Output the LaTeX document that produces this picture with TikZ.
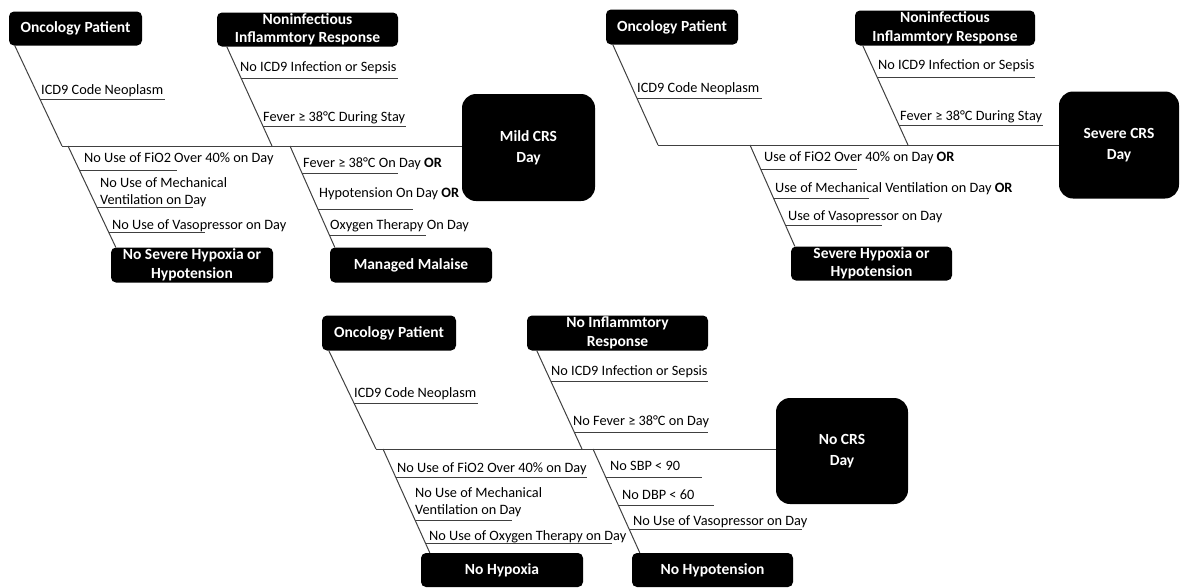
\documentclass[tikz,border=0pt]{standalone}
\usepackage{fontspec}
\setmainfont{Carlito}
\usetikzlibrary{calc}
\begin{document}
\begin{tikzpicture}[x=1pt,y=-1pt,
  blk/.style={fill=black, rounded corners=5pt, text=white, font=\fontsize{15.5}{18.5}\selectfont\bfseries, align=center, inner sep=0pt},
  big/.style={blk, rounded corners=14pt, font=\fontsize{15.5}{21}\selectfont\bfseries},
  lab/.style={anchor=base west, inner sep=0pt, font=\fontsize{14.3}{17}\selectfont, align=left},
  ln/.style={draw=black!75, line width=1pt}]
\useasboundingbox (0,0) rectangle (1180,587);

% ===== Diagram 1 : Mild CRS =====
\node[blk, minimum width=133pt, minimum height=34pt] (onc1) at (75.5,28.5) {Oncology Patient};
\node[blk, minimum width=181pt, minimum height=34pt] (non1) at (307.5,29.5) {Noninfectious\\Inflammtory Response};
\node[blk, minimum width=162pt, minimum height=35pt] (nsh1) at (192,265) {No Severe Hypoxia or\\Hypotension};
\node[blk, minimum width=162pt, minimum height=35pt] (mm1) at (411,265) {Managed Malaise};
\node[big, minimum width=133pt, minimum height=107pt] (mild) at (528.5,147.5) {Mild CRS\\Day};

\coordinate (s1a) at (62,146);
\coordinate (s1b) at (272,146);
\coordinate (s1c) at (68,146);
\coordinate (s1d) at (290,146);
\draw[ln] ([xshift=6pt]onc1.south west) -- (s1a);
\draw[ln] ([xshift=10pt]non1.south west) -- (s1b);
\draw[ln] (s1c) -- ([xshift=5pt]nsh1.north west);
\draw[ln] (s1d) -- ([xshift=5pt]mm1.north west);
\draw[ln] (s1a) -- (s1a -| mild.west);

\node[lab] (t11) at (41,94) {ICD9 Code Neoplasm};
\node[lab] (t12) at (240,71) {No ICD9 Infection or Sepsis};
\node[lab] (t13) at (263,121) {Fever ≥ 38°C During Stay};
\node[lab] (t14) at (84,162) {No Use of FiO2 Over 40\% on Day};
\node[lab] (t15) at (100,204) {No Use of Mechanical\\Ventilation on Day};
\node[lab] (t16) at (112,229) {No Use of Vasopressor on Day};
\node[lab] (t17) at (303,167) {Fever ≥ 38°C On Day \textbf{OR}};
\node[lab] (t18) at (319,197) {Hypotension On Day \textbf{OR}};
\node[lab] (t19) at (330,229) {Oxygen Therapy On Day};

\draw[ln] (40.1,99) -- (165,99);
\draw[ln] (241.4,78) -- (398,78);
\draw[ln] (263,126) -- (406,126);
\draw[ln] (79.4,170) -- (177,170);
\draw[ln] (97,207) -- (193,207);
\draw[ln] (108.9,232) -- (205,232);
\draw[ln] (302,173) -- (398,173);
\draw[ln] (318.1,209) -- (413,209);
\draw[ln] (329.7,235) -- (426,235);

% ===== Diagram 2 : Severe CRS =====
\node[blk, minimum width=132pt, minimum height=35pt] (onc2) at (672,27) {Oncology Patient};
\node[blk, minimum width=180pt, minimum height=35pt] (non2) at (945,28) {Noninfectious\\Inflammtory Response};
\node[blk, minimum width=161pt, minimum height=34pt] (shh2) at (871.5,263.5) {Severe Hypoxia or\\Hypotension};
\node[big, minimum width=120pt, minimum height=107pt] (severe) at (1119,145) {Severe CRS\\Day};

\coordinate (s2a) at (658,145);
\coordinate (s2b) at (908,145);
\coordinate (s2c) at (750,145);
\draw[ln] ([xshift=7pt]onc2.south west) -- (s2a);
\draw[ln] ([xshift=8pt]non2.south west) -- (s2b);
\draw[ln] (s2c) -- ([xshift=4pt]shh2.north west);
\draw[ln] (s2a) -- (s2a -| severe.west);

\node[lab] (t21) at (637,92) {ICD9 Code Neoplasm};
\node[lab] (t22) at (878,69) {No ICD9 Infection or Sepsis};
\node[lab] (t23) at (900,120) {Fever ≥ 38°C During Stay};
\node[lab] (t24) at (764,161) {Use of FiO2 Over 40\% on Day \textbf{OR}};
\node[lab] (t25) at (775,192) {Use of Mechanical Ventilation on Day \textbf{OR}};
\node[lab] (t26) at (788,220) {Use of Vasopressor on Day};

\draw[ln] (637,98) -- (762,98);
\draw[ln] (877.4,77) -- (1035,77);
\draw[ln] (899,125) -- (1043,125);
\draw[ln] (760.7,169) -- (857,169);
\draw[ln] (773.6,198) -- (869,198);
\draw[ln] (785.6,225) -- (882,225);

% ===== Diagram 3 : No CRS =====
\node[blk, minimum width=134pt, minimum height=35pt] (onc3) at (389,333) {Oncology Patient};
\node[blk, minimum width=181pt, minimum height=35pt] (noinf3) at (617.5,333) {No Inflammtory\\Response};
\node[blk, minimum width=162pt, minimum height=34pt] (nohyp) at (502,570) {No Hypoxia};
\node[blk, minimum width=161pt, minimum height=34pt] (nohypo) at (712.5,570) {No Hypotension};
\node[big, minimum width=132pt, minimum height=106pt] (nocrs) at (842,451) {No CRS\\Day};

\coordinate (s3a) at (376,449);
\coordinate (s3b) at (582,449);
\coordinate (s3c) at (383,449);
\coordinate (s3d) at (593,449);
\draw[ln] ([xshift=7pt]onc3.south west) -- (s3a);
\draw[ln] ([xshift=10pt]noinf3.south west) -- (s3b);
\draw[ln] (s3c) -- ([xshift=9pt]nohyp.north west);
\draw[ln] (s3d) -- ([xshift=8pt]nohypo.north west);
\draw[ln] (s3a) -- (s3a -| nocrs.west);

\node[lab] (t31) at (354,397) {ICD9 Code Neoplasm};
\node[lab] (t32) at (551,375) {No ICD9 Infection or Sepsis};
\node[lab] (t33) at (573,425) {No Fever ≥ 38°C on Day};
\node[lab] (t34) at (397,472) {No Use of FiO2 Over 40\% on Day};
\node[lab] (t35) at (415,514) {No Use of Mechanical\\Ventilation on Day};
\node[lab] (t36) at (429,540) {No Use of Oxygen Therapy on Day};
\node[lab] (t37) at (610,470) {No SBP < 90};
\node[lab] (t38) at (622,499) {No DBP < 60};
\node[lab] (t39) at (633,525) {No Use of Vasopressor on Day};

\draw[ln] (354.2,403) -- (478,403);
\draw[ln] (551,381) -- (708,381);
\draw[ln] (574.3,432) -- (708,432);
\draw[ln] (395.7,477) -- (587,477);
\draw[ln] (415.1,520) -- (512,520);
\draw[ln] (425.5,543) -- (612,543);
\draw[ln] (605.7,477) -- (702,477);
\draw[ln] (618.3,505) -- (714,505);
\draw[ln] (629.2,529) -- (802,529);
\end{tikzpicture}
\end{document}
